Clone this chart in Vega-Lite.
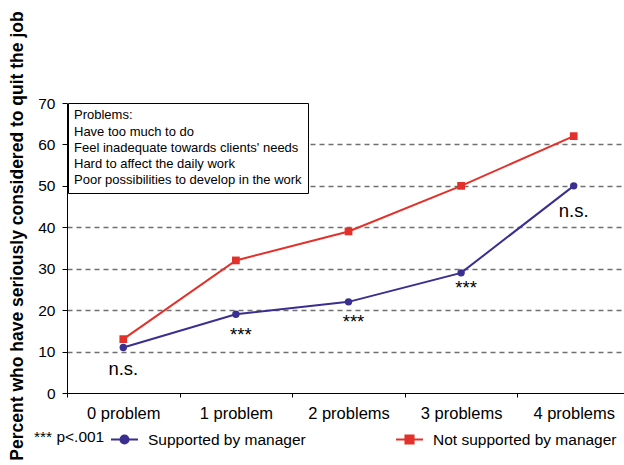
{
  "$schema": "https://vega.github.io/schema/vega-lite/v6.json",
  "width": 557,
  "height": 290,
  "autosize": {"type": "none"},
  "padding": {"left": 67, "top": 103, "right": 0, "bottom": 72},
  "config": {
    "font": "Liberation Sans",
    "view": {"stroke": null},
    "axis": {"domainColor": "black", "tickColor": "black", "labelColor": "black", "titleColor": "black"}
  },
  "datasets": {
    "main": [
      {"category": "0 problem", "group": "Supported by manager", "value": 11},
      {"category": "1 problem", "group": "Supported by manager", "value": 19},
      {"category": "2 problems", "group": "Supported by manager", "value": 22},
      {"category": "3 problems", "group": "Supported by manager", "value": 29},
      {"category": "4 problems", "group": "Supported by manager", "value": 50},
      {"category": "0 problem", "group": "Not supported by manager", "value": 13},
      {"category": "1 problem", "group": "Not supported by manager", "value": 32},
      {"category": "2 problems", "group": "Not supported by manager", "value": 39},
      {"category": "3 problems", "group": "Not supported by manager", "value": 50},
      {"category": "4 problems", "group": "Not supported by manager", "value": 62}
    ],
    "notes": [
      {"category": "0 problem", "label": "n.s.", "y": 4.3},
      {"category": "4 problems", "label": "n.s.", "y": 42.6},
      {"category": "1 problem", "label": "***", "y": 12.5},
      {"category": "2 problems", "label": "***", "y": 15.8},
      {"category": "3 problems", "label": "***", "y": 23.8}
    ],
    "problems": [
      {"problem": "Have too much to do"},
      {"problem": "Feel inadequate towards clients' needs"},
      {"problem": "Hard to affect the daily work"},
      {"problem": "Poor possibilities to develop in the work"}
    ]
  },
  "encoding": {
    "x": {
      "field": "category", "type": "nominal", "sort": null,
      "scale": {"type": "band", "paddingInner": 0, "paddingOuter": 0, "range": [0, 563], "domain": ["0 problem", "1 problem", "2 problems", "3 problems", "4 problems"]},
      "axis": {"title": null, "labelAngle": 0, "tickBand": "extent", "tickSize": 4, "labelPadding": 8, "labelFontSize": 16.5, "grid": false, "domainWidth": 1}
    }
  },
  "layer": [
    {
      "data": {"name": "main"},
      "mark": {"type": "line", "strokeWidth": 2},
      "encoding": {
        "y": {
          "field": "value", "type": "quantitative",
          "scale": {"domain": [0, 70], "nice": false},
          "axis": {
            "values": [0, 10, 20, 30, 40, 50, 60, 70],
            "tickSize": 5, "labelPadding": 7, "labelFontSize": 15.5,
            "grid": true, "gridDash": [5, 4], "gridColor": "#707070", "gridWidth": 1.3,
            "gridOpacity": {"condition": {"test": "datum.value === 0 || datum.value === 70", "value": 0}, "value": 1},
            "title": "Percent who have seriously considered to quit the job",
            "titleFontSize": 17.5, "titleFontWeight": "bold",
            "titleX": -44.5, "titleY": 132.5, "titleAlign": "center", "titleBaseline": "alphabetic", "titleAngle": -90
          }
        },
        "color": {
          "field": "group", "type": "nominal",
          "scale": {"domain": ["Supported by manager", "Not supported by manager"], "range": ["#3a2e90", "#e3302a"]},
          "legend": {
            "orient": "none", "legendX": -33, "legendY": 322,
            "direction": "horizontal", "columns": 2, "columnPadding": 86,
            "title": "*** p<.001", "titleOrient": "left", "titleFontSize": 15.5, "titleFontWeight": "normal", "titleColor": "black", "titlePadding": 5,
            "labelFontSize": 15.5, "labelColor": "black", "labelOffset": 9, "labelLimit": 400, "padding": 0,
            "symbolSize": 729, "symbolStrokeWidth": 2,
            "encode": {
              "symbols": {
                "update": {
                  "shape": {"signal": "datum.value === 'Supported by manager' ? 'M-1,0H1M-0.3,0A0.3,0.3,0,1,0,0.3,0A0.3,0.3,0,1,0,-0.3,0Z' : 'M-1,0H1M-0.3,-0.3H0.3V0.3H-0.3Z'"},
                  "fill": {"signal": "scale('color', datum.value)"},
                  "stroke": {"signal": "scale('color', datum.value)"},
                  "strokeWidth": {"value": 2},
                  "opacity": {"value": 1}
                }
              }
            }
          }
        }
      }
    },
    {
      "data": {"name": "main"},
      "transform": [{"filter": "datum.group === 'Supported by manager'"}],
      "mark": {"type": "point", "filled": true, "opacity": 1, "size": 55, "shape": "circle"},
      "encoding": {
        "y": {"field": "value", "type": "quantitative"},
        "color": {"field": "group", "type": "nominal"}
      }
    },
    {
      "data": {"name": "main"},
      "transform": [{"filter": "datum.group === 'Not supported by manager'"}],
      "mark": {"type": "point", "filled": true, "opacity": 1, "size": 60, "shape": "square"},
      "encoding": {
        "y": {"field": "value", "type": "quantitative"},
        "color": {"field": "group", "type": "nominal"}
      }
    },
    {
      "data": {"name": "notes"},
      "transform": [{"filter": "datum.label === 'n.s.'"}],
      "mark": {"type": "text", "fontSize": 18.5, "color": "black", "baseline": "alphabetic"},
      "encoding": {
        "y": {"field": "y", "type": "quantitative"},
        "text": {"field": "label"}
      }
    },
    {
      "data": {"name": "notes"},
      "transform": [{"filter": "datum.label === '***'"}],
      "mark": {"type": "text", "fontSize": 18.5, "color": "black", "baseline": "alphabetic", "dx": 5},
      "encoding": {
        "y": {"field": "y", "type": "quantitative"},
        "text": {"field": "label"}
      }
    },
    {
      "data": {"name": "problems"},
      "mark": {"type": "point", "opacity": 0, "size": 0},
      "encoding": {
        "fill": {
          "field": "problem", "type": "nominal",
          "scale": {"domain": ["Have too much to do", "Feel inadequate towards clients' needs", "Hard to affect the daily work", "Poor possibilities to develop in the work"], "range": ["white", "white", "white", "white"]},
          "legend": {
            "orient": "none", "legendX": 1, "legendY": 0, "direction": "vertical",
            "title": "Problems:", "titleFontSize": 13, "titleFontWeight": "normal", "titleColor": "black", "titlePadding": 3,
            "labelFontSize": 13, "labelColor": "black", "labelOffset": -13, "labelLimit": 400, "rowPadding": 2,
            "symbolSize": 0, "symbolOpacity": 0, "symbolStrokeWidth": 0,
            "strokeColor": "black", "fillColor": "white", "padding": 6
          }
        }
      }
    }
  ]
}
